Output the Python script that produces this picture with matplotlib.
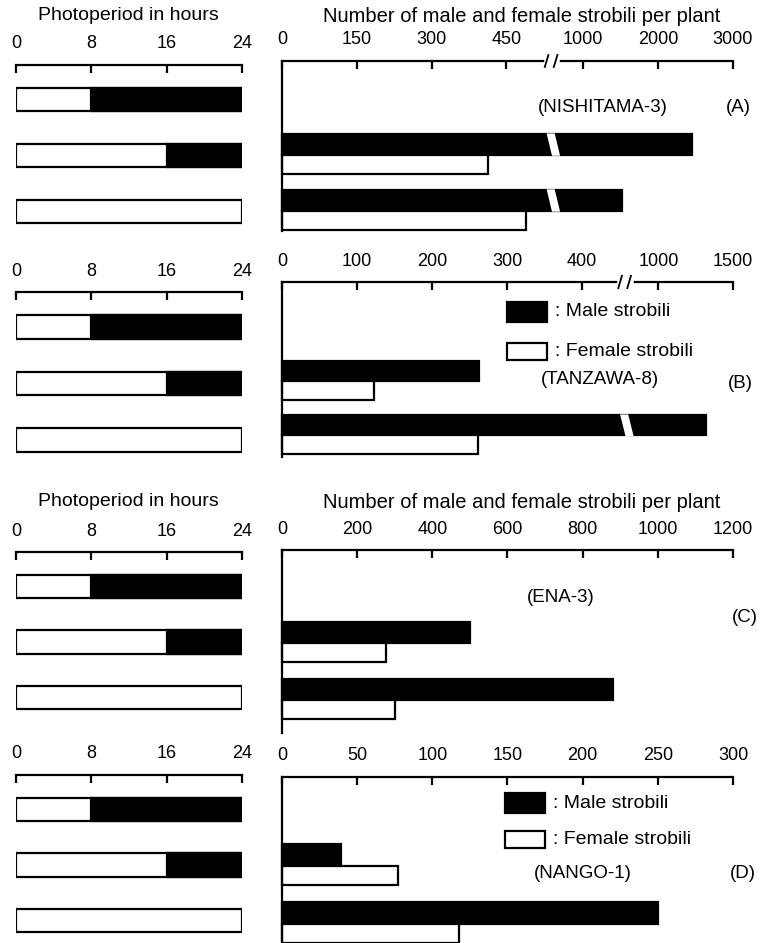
import numpy as np
import matplotlib.pyplot as plt
from matplotlib.patches import Rectangle, Polygon
from matplotlib.transforms import blended_transform_factory

plt.rcParams['font.family'] = ['Liberation Sans', 'DejaVu Sans']

W, H = 761, 943

# photoperiod rows (hours of light in 24 h)
light_hours = np.array([8, 16, 24])
photo_ticks = [0, 8, 16, 24]

strains = ["(NISHITAMA-3)", "(TANZAWA-8)", "(ENA-3)", "(NANGO-1)"]
tags = ["(A)", "(B)", "(C)", "(D)"]

# strobili per plant, rows = 8 h, 16 h, 24 h (8 h gave none)
male_A = np.array([0, 2450, 1520])
female_A = np.array([0, 414, 489])
male_B = np.array([0, 263, 1320])
female_B = np.array([0, 123, 261])
male_C = np.array([0, 500, 880])
female_C = np.array([0, 276, 300])
male_D = np.array([0, 39, 250])
female_D = np.array([0, 77, 118])

ticks_A = [0, 150, 300, 450, 1000, 2000, 3000]
ticks_B = [0, 100, 200, 300, 400, 1000, 1500]
ticks_C = [0, 200, 400, 600, 800, 1000, 1200]
ticks_D = [0, 50, 100, 150, 200, 250, 300]

males = [male_A, male_B, male_C, male_D]
females = [female_A, female_B, female_C, female_D]
ticks = [ticks_A, ticks_B, ticks_C, ticks_D]

# axis scales: (values, pixel offsets); A and B have a broken axis
scales = [
    ([0, 543, 600, 3000], [0, 270, 270.5, 450]),
    ([0, 457, 780, 1500], [0, 343, 343.5, 451]),
    ([0, 1200], [0, 451]),
    ([0, 300], [0, 451]),
]
breaks = [270 / 451, 343.5 / 451, None, None]

# layout in pixels
left_axes = [(65, 56), (292, 56.5), (552, 55.5), (775, 55.5)]
right_axes = [(61, 231, -0.68, 2.36), (282, 457, -0.83, 2.4),
              (550, 733, -0.63, 2.58), (777, 941, -0.53, 2.3)]
strain_pos = [(603, 108), (600, 379), (561, 598), (583, 873)]
tag_pos = [(738, 108), (740, 384), (745, 618), (743, 873)]
titles_y = [16, None, 502, None]
legend_px = [None, (507, 302, 343), None, (505, 793, 831)]

LW = 1.6


def box(x0, y0, x1, y1):
    return [x0 / W, 1 - y1 / H, (x1 - x0) / W, (y1 - y0) / H]


fig = plt.figure(figsize=(W / 100, H / 100), dpi=100)
rows = np.arange(3)

for p in range(4):
    # photoperiod panel
    top, sp = left_axes[p]
    axl = fig.add_axes(box(16, top, 242, top + 3.12 * sp))
    axl.barh(rows, 24, height=0.42, color='white', edgecolor='black', linewidth=LW)
    dark = 24 - light_hours
    axl.barh(rows[dark > 0], dark[dark > 0], left=light_hours[dark > 0], height=0.42,
             color='black', edgecolor='black', linewidth=LW)
    axl.set_xlim(0, 24)
    axl.set_ylim(2.5, -0.62)
    axl.xaxis.tick_top()
    axl.set_xticks(photo_ticks)
    axl.set_yticks([])
    for s in ['left', 'right', 'bottom']:
        axl.spines[s].set_visible(False)
    axl.spines['top'].set_linewidth(LW)
    axl.tick_params(axis='x', direction='in', length=6, width=LW, pad=9, labelsize=13)

    # strobili panel
    rt, rb, y0, y1 = right_axes[p]
    axr = fig.add_axes(box(282, rt, 733, rb))
    vals, offs = scales[p]
    axr.set_xscale('function', functions=(lambda x, v=vals, o=offs: np.interp(x, v, o),
                                          lambda u, v=vals, o=offs: np.interp(u, o, v)))
    m = males[p]
    f = females[p]
    axr.barh(rows[m > 0] - 0.185, m[m > 0], height=0.37, color='black',
             edgecolor='black', linewidth=LW, clip_on=False)
    axr.barh(rows[f > 0] + 0.17, f[f > 0], height=0.34, color='white',
             edgecolor='black', linewidth=LW, clip_on=False)
    axr.set_xlim(vals[0], vals[-1])
    axr.set_ylim(y1, y0)
    axr.xaxis.tick_top()
    axr.set_xticks(ticks[p])
    axr.set_xticklabels([str(t) for t in ticks[p]])
    axr.set_yticks([])
    for s in ['right', 'bottom']:
        axr.spines[s].set_visible(False)
    for s in ['top', 'left']:
        axr.spines[s].set_linewidth(LW)
    axr.tick_params(axis='x', direction='in', length=6, width=LW, pad=9, labelsize=13)

    b = breaks[p]
    if b is not None:
        tr = blended_transform_factory(axr.transAxes, axr.transData)
        for r in rows:
            if m[r] > vals[1]:
                ytop = r - 0.185 - 0.2
                ybot = r - 0.185 + 0.2
                axr.add_patch(Polygon([(b - 0.012, ytop), (b + 0.006, ytop),
                                       (b + 0.018, ybot), (b + 0.0, ybot)],
                                      closed=True, facecolor='white', edgecolor='none',
                                      transform=tr, zorder=4))
        axr.plot([b - 0.012, b + 0.012], [1, 1], color='white', lw=4,
                 transform=axr.transAxes, clip_on=False, zorder=5)
        for dx in (-0.012, 0.008):
            axr.plot([b + dx - 0.004, b + dx + 0.004], [1 - 0.035, 1 + 0.035],
                     color='black', lw=1.3, transform=axr.transAxes,
                     clip_on=False, zorder=6)

    fig.text(strain_pos[p][0] / W, 1 - strain_pos[p][1] / H, strains[p],
             ha='center', va='center', fontsize=13.5)
    fig.text(tag_pos[p][0] / W, 1 - tag_pos[p][1] / H, tags[p],
             ha='center', va='center', fontsize=13.5)

    if titles_y[p] is not None:
        ty = 1 - titles_y[p] / H
        fig.text(128 / W, ty, "Photoperiod in hours", ha='center', va='center', fontsize=14)
        fig.text(522 / W, ty, "Number of male and female strobili per plant",
                 ha='center', va='center', fontsize=14.5)

    if legend_px[p] is not None:
        lx, ly_m, ly_f = legend_px[p]
        fig.add_artist(Rectangle((lx / W, 1 - (ly_m + 20) / H), 40 / W, 20 / H,
                                 facecolor='black', edgecolor='black', lw=LW,
                                 transform=fig.transFigure))
        fig.add_artist(Rectangle((lx / W, 1 - (ly_f + 17) / H), 40 / W, 17 / H,
                                 facecolor='white', edgecolor='black', lw=LW,
                                 transform=fig.transFigure))
        fig.text((lx + 48) / W, 1 - (ly_m + 10) / H, ": Male strobili",
                 ha='left', va='center', fontsize=14)
        fig.text((lx + 48) / W, 1 - (ly_f + 8) / H, ": Female strobili",
                 ha='left', va='center', fontsize=14)

fig.savefig("out.png", dpi=100, facecolor='white')
